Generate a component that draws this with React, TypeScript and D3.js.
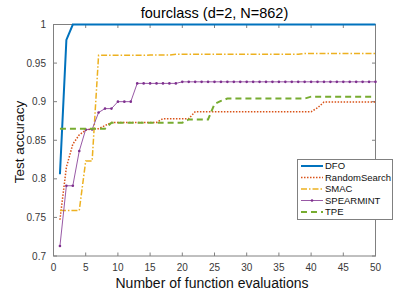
import React from "react";
import * as d3 from "d3";

const evals = d3.range(1, 51);
const dfo = [0.806, 0.98, ...Array(48).fill(1)];
const randomSearch = [0.747, 0.815, 0.845, 0.857, 0.863, 0.865, 0.865, 0.869, 0.873, 0.873, 0.873, 0.873, 0.873, 0.873, 0.873, 0.873, 0.878, 0.878, 0.878, 0.878, 0.878, 0.887, 0.887, 0.887, 0.887, 0.887, 0.887, 0.887, 0.887, 0.887, 0.887, 0.887, 0.887, 0.887, 0.887, 0.887, 0.887, 0.887, 0.887, 0.887, 0.892, 0.8995, 0.8995, 0.8995, 0.8995, 0.8995, 0.8995, 0.8995, 0.8995, 0.8995];
const smac = [0.759, 0.759, 0.759, 0.759, 0.823, 0.823, 0.96, 0.96, 0.96, 0.96, 0.96, 0.96, 0.96, 0.96, 0.9605, 0.9605, 0.9605, 0.9605, 0.9613, 0.9613, 0.9613, 0.9613, 0.9613, 0.9613, 0.9613, 0.9613, 0.9613, 0.9613, 0.9613, 0.9613, 0.9613, 0.9613, 0.9613, 0.9613, 0.9613, 0.9613, 0.9613, 0.9613, 0.9625, 0.9625, 0.9625, 0.9625, 0.9625, 0.9625, 0.9625, 0.9625, 0.9625, 0.9625, 0.9625, 0.9625];
const spearmint = [0.713, 0.791, 0.791, 0.836, 0.864, 0.864, 0.886, 0.891, 0.891, 0.9, 0.9, 0.9, 0.9237, 0.9237, 0.9237, 0.9237, 0.9237, 0.9237, 0.9237, 0.9257, 0.9257, 0.9257, 0.9257, 0.9257, 0.9257, 0.9257, 0.9257, 0.9257, 0.9257, 0.9257, 0.9257, 0.9257, 0.9257, 0.9257, 0.9257, 0.9257, 0.9257, 0.9257, 0.9257, 0.9257, 0.9257, 0.9257, 0.9257, 0.9257, 0.9257, 0.9257, 0.9257, 0.9257, 0.9257, 0.9257];
const tpe = [0.865, 0.865, 0.865, 0.865, 0.865, 0.865, 0.865, 0.865, 0.8727, 0.8727, 0.8727, 0.8727, 0.8727, 0.8727, 0.8727, 0.8727, 0.8727, 0.8727, 0.8727, 0.8727, 0.877, 0.877, 0.877, 0.877, 0.897, 0.901, 0.904, 0.904, 0.904, 0.904, 0.904, 0.904, 0.904, 0.904, 0.904, 0.904, 0.904, 0.904, 0.904, 0.9065, 0.9065, 0.9065, 0.9065, 0.9065, 0.9065, 0.9065, 0.9065, 0.9065, 0.9065, 0.9065];

const xTicks = [0, 5, 10, 15, 20, 25, 30, 35, 40, 45, 50];
const yTicks = [0.7, 0.75, 0.8, 0.85, 0.9, 0.95, 1];
const seriesNames = ["DFO", "RandomSearch", "SMAC", "SPEARMINT", "TPE"];

const series = [
  { name: seriesNames[0], values: dfo, color: "#0072BD", width: 2, dash: "", marker: false },
  { name: seriesNames[1], values: randomSearch, color: "#D95319", width: 1.5, dash: "1.5,1.5", marker: false },
  { name: seriesNames[2], values: smac, color: "#EDB120", width: 1.5, dash: "6,2,1.5,2", marker: false },
  { name: seriesNames[3], values: spearmint, color: "#7E2F8E", width: 0.8, dash: "", marker: true },
  { name: seriesNames[4], values: tpe, color: "#77AC30", width: 2, dash: "6,4", marker: false },
];

const L = 53.5, R = 375.5, T = 24.5, B = 256;
const font = "'Liberation Sans', Arial, Helvetica, sans-serif";

export default function App() {
  const x = d3.scaleLinear().domain([0, 50]).range([L, R]);
  const y = d3.scaleLinear().domain([0.7, 1]).range([B, T]);
  const line = d3.line<number>().x((_, i) => x(evals[i])).y((d) => y(d));
  const axisColor = "#808080";
  const textColor = "#383838";

  return (
    <svg width={415} height={291} style={{ position: "absolute", left: 0, top: 0 }}>
      <rect x={0} y={0} width={415} height={291} fill="#fff" />
      <rect x={L} y={T} width={R - L} height={B - T} fill="#fff" stroke={axisColor} strokeWidth={1} />
      {xTicks.map((t) => (
        <g key={"x" + t}>
          <line x1={x(t)} x2={x(t)} y1={B} y2={B - 3.5} stroke={axisColor} />
          <line x1={x(t)} x2={x(t)} y1={T} y2={T + 3.5} stroke={axisColor} />
          <text x={x(t)} y={271} textAnchor="middle" fontSize={10} fontFamily={font} fill={textColor}>{t}</text>
        </g>
      ))}
      {yTicks.map((t) => (
        <g key={"y" + t}>
          <line x1={L} x2={L + 3.5} y1={y(t)} y2={y(t)} stroke={axisColor} />
          <line x1={R} x2={R - 3.5} y1={y(t)} y2={y(t)} stroke={axisColor} />
          <text x={46} y={y(t) + 3.5} textAnchor="end" fontSize={10} fontFamily={font} fill={textColor}>{String(t)}</text>
        </g>
      ))}
      {series.map((s) => (
        <g key={s.name}>
          <path d={line(s.values) || ""} fill="none" stroke={s.color} strokeWidth={s.width} strokeDasharray={s.dash || undefined} />
          {s.marker && s.values.map((v, i) => (
            <circle key={i} cx={x(evals[i])} cy={y(v)} r={1.3} fill={s.color} />
          ))}
        </g>
      ))}
      <text x={(L + R) / 2} y={18} textAnchor="middle" fontSize={14.5} fontFamily={font} fill="#000">fourclass (d=2, N=862)</text>
      <text x={212} y={288} textAnchor="middle" fontSize={14} fontFamily={font} fill="#111">Number of function evaluations</text>
      <text transform={`translate(24,142) rotate(-90)`} textAnchor="middle" fontSize={13.5} fontFamily={font} fill="#111">Test accuracy</text>
      <g>
        <rect x={297.5} y={159.5} width={95} height={60} fill="#fff" stroke={axisColor} strokeWidth={1} />
        {series.map((s, i) => {
          const ly = 166 + i * 11.5;
          return (
            <g key={"lg" + s.name}>
              <line x1={301} x2={323} y1={ly} y2={ly} stroke={s.color} strokeWidth={s.width} strokeDasharray={s.dash || undefined} />
              {s.marker && <circle cx={312} cy={ly} r={1.3} fill={s.color} />}
              <text x={325} y={ly + 3.3} fontSize={9.5} fontFamily={font} fill="#111">{s.name}</text>
            </g>
          );
        })}
      </g>
    </svg>
  );
}
